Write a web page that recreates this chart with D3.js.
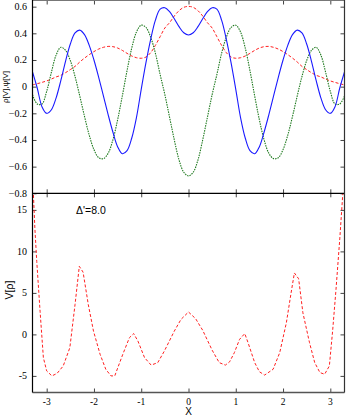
<!DOCTYPE html>
<html><head><meta charset="utf-8">
<script src="https://cdn.jsdelivr.net/npm/d3@7"></script>
<style>body{margin:0;background:#fff}svg{display:block}</style>
</head><body>
<script>
// ---------- data ----------
const xGrid = [-3.3,-3.2,-3.1,-3.0,-2.9,-2.8,-2.7,-2.6,-2.5,-2.4,-2.3,-2.2,-2.1,-2.0,-1.9,-1.8,-1.7,-1.6,-1.5,-1.4,-1.3,-1.2,-1.1,-1.0,-0.9,-0.8,-0.7,-0.6,-0.5,-0.4,-0.3,-0.2,-0.1,0,
  0.1,0.2,0.3,0.4,0.5,0.6,0.7,0.8,0.9,1.0,1.1,1.2,1.3,1.4,1.5,1.6,1.7,1.8,1.9,2.0,2.1,2.2,2.3,2.4,2.5,2.6,2.7,2.8,2.9,3.0,3.1,3.2,3.3];
const blueVals = [0.11,-0.01,-0.15,-0.20,-0.173,-0.084,0.047,0.192,0.32,0.403,0.424,0.39,0.31,0.2,0.07,-0.07,-0.21,-0.34,-0.45,-0.503,-0.48,-0.385,-0.23,-0.02,0.18,0.355,0.499,0.581,0.592,0.562,0.509,0.45,0.404,0.387,
  0.404,0.45,0.509,0.562,0.592,0.581,0.499,0.355,0.18,-0.02,-0.23,-0.385,-0.48,-0.503,-0.45,-0.34,-0.21,-0.07,0.07,0.2,0.31,0.39,0.424,0.403,0.32,0.192,0.047,-0.084,-0.173,-0.20,-0.15,-0.01,0.11];
const greenVals = [-0.06,-0.13,-0.13,-0.035,0.108,0.237,0.295,0.272,0.196,0.076,-0.07,-0.223,-0.364,-0.472,-0.533,-0.54,-0.50,-0.40,-0.25,-0.07,0.12,0.29,0.41,0.461,0.444,0.371,0.25,0.091,-0.06,-0.23,-0.40,-0.55,-0.642,-0.67,
  -0.642,-0.55,-0.40,-0.23,-0.06,0.091,0.25,0.371,0.444,0.461,0.41,0.29,0.12,-0.07,-0.25,-0.40,-0.50,-0.54,-0.533,-0.472,-0.364,-0.223,-0.07,0.076,0.196,0.272,0.295,0.237,0.108,-0.035,-0.13,-0.13,-0.07];
const redVals = [0.013,0.022,0.032,0.043,0.057,0.073,0.085,0.105,0.128,0.152,0.185,0.214,0.24,0.263,0.282,0.295,0.302,0.3,0.29,0.272,0.25,0.23,0.217,0.213,0.222,0.255,0.31,0.375,0.44,0.48,0.53,0.57,0.595,0.602,
  0.595,0.57,0.53,0.48,0.44,0.375,0.31,0.255,0.222,0.213,0.217,0.23,0.25,0.272,0.29,0.3,0.302,0.295,0.282,0.263,0.24,0.214,0.185,0.152,0.128,0.105,0.085,0.073,0.057,0.043,0.032,0.022,0.013];

const vX = [-3.28,-3.25,-3.21,-3.14,-3.07,-3.0,-2.89,-2.78,-2.65,-2.51,-2.40,-2.31,-2.23,-2.12,-2.01,-1.87,-1.75,-1.64,-1.56,-1.39,-1.25,-1.16,-1.07,-0.93,-0.79,-0.65,-0.51,-0.30,-0.16,0,
  0.15,0.30,0.50,0.65,0.78,0.87,0.97,1.08,1.19,1.26,1.40,1.50,1.61,1.79,1.93,2.07,2.17,2.24,2.33,2.42,2.56,2.67,2.78,2.88,2.98,3.05,3.12,3.20,3.26,3.29];
const vVals = [16.8,12.8,8.8,2.8,-2.8,-4.4,-5.0,-4.7,-3.8,-1.6,3.6,8.2,7.5,3.6,0.4,-2.4,-4.2,-5.0,-5.0,-2.4,-0.4,0.1,-0.8,-2.8,-3.7,-3.4,-2.0,0.4,1.8,2.7,
  1.9,0.5,-1.9,-3.4,-3.7,-3.3,-2.2,-0.6,0.1,-1.0,-3.4,-4.5,-4.9,-4.2,-2.2,1.4,5.0,7.4,6.7,2.6,-1.0,-3.4,-4.6,-4.8,-3.8,0.5,5.4,11.5,16.6,18.5];

const xTicks = [-3,-2,-1,0,1,2,3];
const topYTicks = [-0.8,-0.6,-0.4,-0.2,0,0.2,0.4,0.6];
const botYTicks = [-5,0,5,10,15];
const topYLabel = "ρ[V],ψ[V]";
const botYLabel = "V[ρ]";
const xLabel = "X";
const annotation = "Δ'=8.0";

// ---------- layout ----------
const W = 346, H = 415;
const L = 32.5, R = 344.5;
const topT = 0.5, mid = 193.3, botB = 392.5;

const svg = d3.select("body").append("svg").attr("width", W).attr("height", H);

const x = d3.scaleLinear().domain([-3.3, 3.3]).range([L, R]);
const yT = d3.scaleLinear().domain([-0.8, 0.65]).range([mid, 0]);
const yB = d3.scaleLinear().domain([-7, 17]).range([botB, mid]);

const defs = svg.append("defs");
defs.append("clipPath").attr("id","cTop").append("rect").attr("x",L).attr("y",0).attr("width",R-L).attr("height",mid);
defs.append("clipPath").attr("id","cBot").append("rect").attr("x",L).attr("y",mid).attr("width",R-L).attr("height",botB-mid);

const serif = "'Liberation Serif','Times New Roman',serif";
const sans = "'Liberation Sans',Arial,sans-serif";

// ---------- ticks ----------
function ticksGroup(axis, tx, ty){
  const g = svg.append("g").attr("transform",`translate(${tx},${ty})`).call(axis);
  g.select(".domain").remove();
  g.selectAll("line").attr("stroke","#444").attr("stroke-width",1);
  g.selectAll("text").remove();
  return g;
}
// top panel
ticksGroup(d3.axisLeft(yT).tickValues(topYTicks).tickSize(-4), L, 0);
ticksGroup(d3.axisRight(yT).tickValues(topYTicks).tickSize(-4), R, 0);
ticksGroup(d3.axisBottom(x).tickValues(xTicks).tickSize(-4), 0, mid);
ticksGroup(d3.axisTop(x).tickValues(xTicks).tickSize(-4), 0, topT);
// bottom panel
ticksGroup(d3.axisLeft(yB).tickValues(botYTicks).tickSize(-4), L, 0);
ticksGroup(d3.axisRight(yB).tickValues(botYTicks).tickSize(-4), R, 0);
ticksGroup(d3.axisBottom(x).tickValues(xTicks).tickSize(-4), 0, botB);
ticksGroup(d3.axisTop(x).tickValues(xTicks).tickSize(-4), 0, mid);

// tick labels
svg.append("g").selectAll("text").data(topYTicks).join("text")
  .attr("x", L-5.5).attr("y", d=>yT(d)+3.5).attr("text-anchor","end")
  .attr("font-family",serif).attr("font-size",10).attr("fill","#000")
  .text(d=>d3.format("")(+d.toFixed(1)));
svg.append("g").selectAll("text").data(botYTicks).join("text")
  .attr("x", L-5.5).attr("y", d=>yB(d)+3.5).attr("text-anchor","end")
  .attr("font-family",serif).attr("font-size",10).attr("fill","#000")
  .text(d=>String(d));
svg.append("g").selectAll("text").data(xTicks).join("text")
  .attr("x", d=>x(d)).attr("y", 405).attr("text-anchor","middle")
  .attr("font-family",serif).attr("font-size",9.5).attr("fill","#000")
  .text(d=>String(d));

// ---------- curves ----------
const lineT = vals => d3.line().x((d,i)=>x(xGrid[i])).y(d=>yT(d)).curve(d3.curveCatmullRom.alpha(0.5))(vals);
const gT = svg.append("g").attr("clip-path","url(#cTop)");
gT.append("path").attr("d", lineT(redVals)).attr("fill","none").attr("stroke","#ff2020").attr("stroke-width",1).attr("stroke-dasharray","3,2");
gT.append("path").attr("d", lineT(greenVals)).attr("fill","none").attr("stroke","#1f7a1f").attr("stroke-width",1.1).attr("stroke-dasharray","1.5,1");
gT.append("path").attr("d", lineT(blueVals)).attr("fill","none").attr("stroke","#1a1aff").attr("stroke-width",1.1);

const gB = svg.append("g").attr("clip-path","url(#cBot)");
gB.append("path")
  .attr("d", d3.line().x((d,i)=>x(vX[i])).y(d=>yB(d))(vVals))
  .attr("fill","none").attr("stroke","#ff2020").attr("stroke-width",1).attr("stroke-dasharray","3,2");

// ---------- frames ----------
svg.append("line").attr("x1",L).attr("x2",R).attr("y1",topT).attr("y2",topT).attr("stroke","#777").attr("stroke-width",1.2);
svg.append("line").attr("x1",L).attr("x2",R).attr("y1",mid).attr("y2",mid).attr("stroke","#000").attr("stroke-width",1.2);
svg.append("line").attr("x1",L).attr("x2",R).attr("y1",botB).attr("y2",botB).attr("stroke","#555").attr("stroke-width",1.5);
svg.append("line").attr("x1",L).attr("x2",L).attr("y1",0).attr("y2",botB).attr("stroke","#000").attr("stroke-width",1.2);
svg.append("line").attr("x1",R).attr("x2",R).attr("y1",0).attr("y2",botB).attr("stroke","#333").attr("stroke-width",1.2);

// ---------- labels ----------
svg.append("text").attr("transform",`translate(8,87) rotate(-90)`).attr("text-anchor","middle")
  .attr("font-family",sans).attr("font-size",8).attr("fill","#000").text(topYLabel);
svg.append("text").attr("transform",`translate(12.5,290) rotate(-90)`).attr("text-anchor","middle")
  .attr("font-family",sans).attr("font-size",10.5).attr("fill","#000").text(botYLabel);
svg.append("text").attr("x",76).attr("y",214).attr("font-family",sans).attr("font-size",10.5).attr("fill","#000").text(annotation);
svg.append("text").attr("x",x(0)).attr("y",414.5).attr("text-anchor","middle").attr("font-family",sans).attr("font-size",10).attr("fill","#000").text(xLabel);
</script>
</body></html>
